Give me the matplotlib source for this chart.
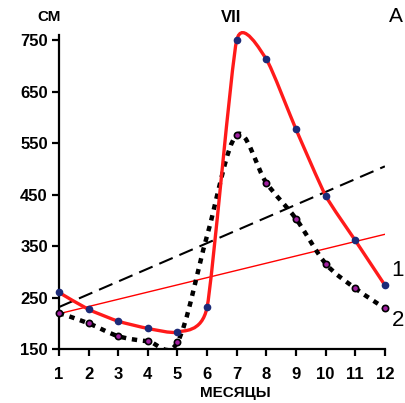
import numpy as np
import matplotlib
matplotlib.use("Agg")
import matplotlib.pyplot as plt
from matplotlib.path import Path
from matplotlib.patches import PathPatch

months = [1, 2, 3, 4, 5, 6, 7, 8, 9, 10, 11, 12]
series1 = [260, 227, 204, 190, 183, 231, 750, 713, 577, 448, 361, 274]
series2 = [220, 200, 175, 165, 163, 370, 566, 473, 403, 316, 268, 229]
yticks = [150, 250, 350, 450, 550, 650, 750]

plt.rcParams['font.family'] = ['Liberation Sans', 'DejaVu Sans']
plt.rcParams['font.weight'] = 'bold'

fig = plt.figure(figsize=(4.06, 4.03), dpi=100)
ax = fig.add_axes([0.145, 0.134, 0.803, 0.779])


def smooth_path(x, y, k=1/6):
    x = np.asarray(x, float); y = np.asarray(y, float)
    n = len(x)
    verts = [(x[0], y[0])]
    codes = [Path.MOVETO]
    for i in range(n - 1):
        p0 = np.array([x[max(i - 1, 0)], y[max(i - 1, 0)]])
        p1 = np.array([x[i], y[i]])
        p2 = np.array([x[i + 1], y[i + 1]])
        p3 = np.array([x[min(i + 2, n - 1)], y[min(i + 2, n - 1)]])
        c1 = p1 + (p2 - p0) * k
        c2 = p2 - (p3 - p1) * k
        verts += [tuple(c1), tuple(c2), tuple(p2)]
        codes += [Path.CURVE4] * 3
    return Path(verts, codes)


# trend lines
xs = np.array(months, float)
for ser, col, ls, lw in [(series1, 'black', (0, (7, 3.5)), 1.5),
                         (series2, 'red', '-', 1.0)]:
    b, a = np.polyfit(xs, ser, 1)
    ax.plot([1, 12], [a + b, a + 12 * b], color=col, ls=ls, lw=lw, zorder=2)

# smoothed series
ax.add_patch(PathPatch(smooth_path(months, series2, 1/6), fill=False, ec='black',
                       lw=3.2, ls=(0, (1.2, 1.3)), capstyle='butt', zorder=3))
ax.add_patch(PathPatch(smooth_path(months, series1, 0.09), fill=False, ec='#ff1a1a',
                       lw=2.4, zorder=4, clip_on=False))

ax.plot(months, series1, ls='none', marker='o', ms=4.5, mfc='#1c2a78',
        mec='#1c2a78', zorder=5, clip_on=False)
ax.plot(months, series2, ls='none', marker='o', ms=4.5, mfc='#a020a0',
        mec='black', mew=1.2, markevery=[0, 1, 2, 3, 4, 6, 7, 8, 9, 10, 11],
        zorder=5, clip_on=False)

ax.set_xlim(1, 12)
ax.set_ylim(150, 760)
ax.set_xticks(months)
ax.set_yticks(yticks)
for s in ['top', 'right']:
    ax.spines[s].set_visible(False)
for s in ['left', 'bottom']:
    ax.spines[s].set_linewidth(1.6)
ax.tick_params(axis='both', width=1.6, length=5, labelsize=12, pad=3)
ax.tick_params(axis='x', pad=8)
for lab in ax.get_xticklabels() + ax.get_yticklabels():
    lab.set_fontweight('bold')

fig.text(235 / 406, 1 - 393 / 403, 'МЕСЯЦЫ', ha='center', va='center', fontsize=11, fontweight='bold')
fig.text(49 / 406, 1 - 17 / 403, 'СМ', ha='center', va='center', fontsize=11, fontweight='bold')
fig.text(231 / 406, 1 - 17 / 403, 'VII', ha='center', va='center', fontsize=12, fontweight='bold')
fig.text(396 / 406, 1 - 17 / 403, 'A', ha='center', va='center', fontsize=15, fontweight='normal')
fig.text(398 / 406, 1 - 271 / 403, '1', ha='center', va='center', fontsize=16, fontweight='normal')
fig.text(398 / 406, 1 - 321 / 403, '2', ha='center', va='center', fontsize=16, fontweight='normal')

fig.savefig('out.png', dpi=100)
